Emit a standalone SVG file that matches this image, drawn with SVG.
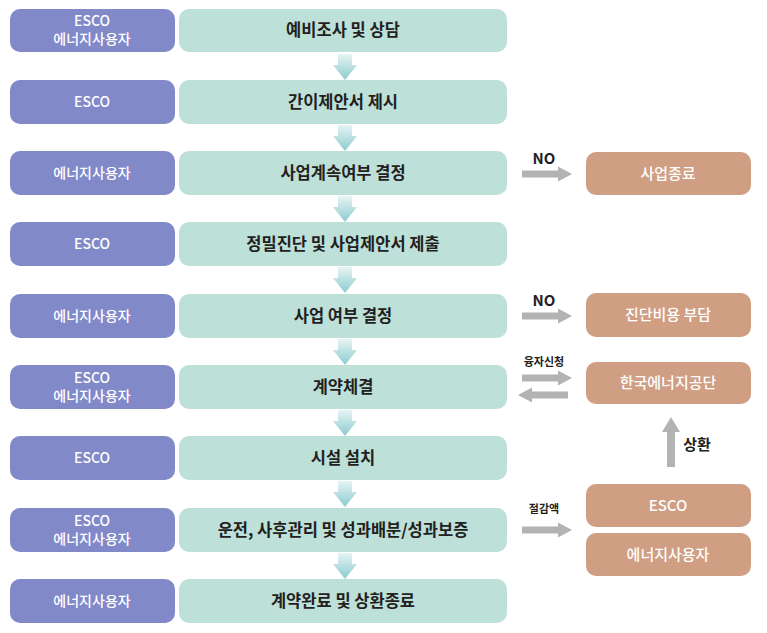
<svg xmlns="http://www.w3.org/2000/svg" width="767" height="633" viewBox="0 0 767 633">
<style>
.p{fill:#8189c9}
.g{fill:#bde0d8}
.t{fill:#cf9e83}
.pt{font-family:"Noto Sans CJK KR","Noto Sans",sans-serif;font-size:14px;fill:#fff;font-weight:500;text-anchor:middle}
.gt{font-family:"Noto Sans CJK KR","Noto Sans",sans-serif;font-size:16.5px;fill:#231f20;font-weight:700;text-anchor:middle}
.tt{font-family:"Noto Sans CJK KR","Noto Sans",sans-serif;font-size:15px;fill:#fff;font-weight:500;text-anchor:middle}
.lb{font-family:"Noto Sans CJK KR","Noto Sans",sans-serif;fill:#231f20;font-weight:700;text-anchor:middle}
.ga{fill:#b3b3b3}
</style>
<defs>
<linearGradient id="dg" x1="0" y1="0" x2="0" y2="1">
<stop offset="0" stop-color="#e6f4f4"/>
<stop offset="1" stop-color="#8ccbd0"/>
</linearGradient>
<path id="down" d="M-7,0 H7 V11 H12 L0,26 L-12,11 H-7 Z" fill="url(#dg)"/>
<path id="right" d="M0,-3.5 H36 V-7.5 L50,0 L36,7.5 V3.5 H0 Z" class="ga"/>
</defs>
<g id="connectors">
<use href="#down" x="345" y="54"/>
<use href="#down" x="345" y="125"/>
<use href="#down" x="345" y="196"/>
<use href="#down" x="345" y="267"/>
<use href="#down" x="345" y="339"/>
<use href="#down" x="345" y="410"/>
<use href="#down" x="345" y="481"/>
<use href="#down" x="345" y="553"/>
<use href="#right" x="522" y="174"/>
<use href="#right" x="522" y="316"/>
<use href="#right" x="522" y="378"/>
<use href="#right" transform="translate(568,395) scale(-1,1)"/>
<use href="#right" x="522" y="530"/>
<path d="M667,467 V432 H662 L671,417 L680,432 H675 V467 Z" class="ga"/>
<text class="lb" x="544" y="164" font-size="15">NO</text>
<text class="lb" x="544" y="306" font-size="15">NO</text>
<text class="lb" x="544" y="366" font-size="11">융자신청</text>
<text class="lb" x="544" y="513" font-size="11">절감액</text>
<text class="lb" x="697" y="450" font-size="15">상환</text>
</g>
<g id="r1"><rect class="p" x="10" y="9" width="165" height="43" rx="10"/><text class="pt" x="92" y="26">ESCO<tspan x="92" dy="18">에너지사용자</tspan></text>
<rect class="g" x="179" y="9" width="328" height="43" rx="10"/><text class="gt" x="343" y="36">예비조사 및 상담</text></g>
<g id="r2"><rect class="p" x="10" y="80" width="165" height="44" rx="10"/><text class="pt" x="92" y="107">ESCO</text>
<rect class="g" x="179" y="80" width="328" height="44" rx="10"/><text class="gt" x="343" y="108">간이제안서 제시</text></g>
<g id="r3"><rect class="p" x="10" y="151" width="165" height="44" rx="10"/><text class="pt" x="92" y="178">에너지사용자</text>
<rect class="g" x="179" y="151" width="328" height="44" rx="10"/><text class="gt" x="343" y="179">사업계속여부 결정</text></g>
<g id="r4"><rect class="p" x="10" y="222" width="165" height="44" rx="10"/><text class="pt" x="92" y="249">ESCO</text>
<rect class="g" x="179" y="222" width="328" height="44" rx="10"/><text class="gt" x="343" y="250">정밀진단 및 사업제안서 제출</text></g>
<g id="r5"><rect class="p" x="10" y="294" width="165" height="44" rx="10"/><text class="pt" x="92" y="321">에너지사용자</text>
<rect class="g" x="179" y="294" width="328" height="44" rx="10"/><text class="gt" x="343" y="322">사업 여부 결정</text></g>
<g id="r6"><rect class="p" x="10" y="365" width="165" height="44" rx="10"/><text class="pt" x="92" y="383">ESCO<tspan x="92" dy="18">에너지사용자</tspan></text>
<rect class="g" x="179" y="365" width="328" height="44" rx="10"/><text class="gt" x="343" y="393">계약체결</text></g>
<g id="r7"><rect class="p" x="10" y="436" width="165" height="44" rx="10"/><text class="pt" x="92" y="463">ESCO</text>
<rect class="g" x="179" y="436" width="328" height="44" rx="10"/><text class="gt" x="343" y="464">시설 설치</text></g>
<g id="r8"><rect class="p" x="10" y="508" width="165" height="44" rx="10"/><text class="pt" x="92" y="526">ESCO<tspan x="92" dy="18">에너지사용자</tspan></text>
<rect class="g" x="179" y="508" width="328" height="44" rx="10"/><text class="gt" x="343" y="536">운전, 사후관리 및 성과배분/성과보증</text></g>
<g id="r9"><rect class="p" x="10" y="579" width="165" height="44" rx="10"/><text class="pt" x="92" y="606">에너지사용자</text>
<rect class="g" x="179" y="579" width="328" height="44" rx="10"/><text class="gt" x="343" y="607">계약완료 및 상환종료</text></g>
<g id="end1"><rect class="t" x="586" y="152" width="165" height="43" rx="10"/><text class="tt" x="668" y="179">사업종료</text></g>
<g id="end2"><rect class="t" x="586" y="293" width="165" height="44" rx="10"/><text class="tt" x="668" y="320">진단비용 부담</text></g>
<g id="kea"><rect class="t" x="586" y="362" width="165" height="42" rx="10"/><text class="tt" x="668" y="388">한국에너지공단</text></g>
<g id="esco"><rect class="t" x="586" y="484" width="165" height="43" rx="10"/><text class="tt" x="668" y="511">ESCO</text></g>
<g id="user"><rect class="t" x="586" y="533" width="165" height="43" rx="10"/><text class="tt" x="668" y="560">에너지사용자</text></g>
</svg>
